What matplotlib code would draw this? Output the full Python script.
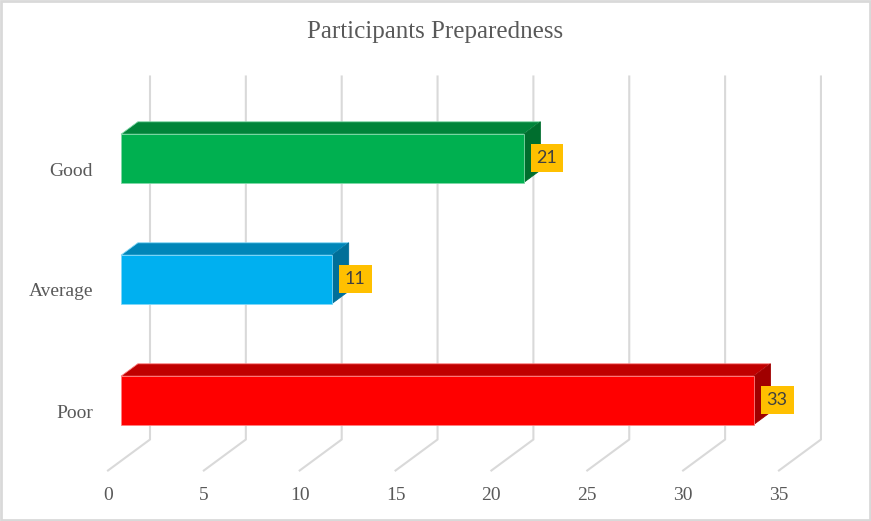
import matplotlib
matplotlib.use("Agg")
import matplotlib.pyplot as plt
from matplotlib.patches import Polygon, Rectangle

# chart data
categories = ["Poor", "Average", "Good"]
values = [33, 11, 21]
x_ticks = [0, 5, 10, 15, 20, 25, 30, 35]

front_colors = ["#FF0000", "#00B0F0", "#00B050"]
top_colors = ["#C00000", "#0086B8", "#00843A"]
side_colors = ["#A00000", "#006F99", "#006E2E"]
edge_colors = ["#FF8080", "#80D8F8", "#80D8A8"]

# oblique "3D" layout (pixel scale of the reference)
W, H = 871, 521
px_val = 19.17     # pixels per value unit
px_cat = 121.0     # pixels per category step
x0_px = 108.0      # value 0 at front of floor
y0_px = 410.0      # first category at front plane
ddx = 42.0 / px_val   # depth offset in value units
ddy = 31.0 / px_cat   # depth offset in category units
bar_half = 0.2
d_front, d_back = 0.31, 0.71


def proj(v, c, d):
    return (v + d * ddx, c + d * ddy)


fig = plt.figure(figsize=(W / 100, H / 100), dpi=100)
ax = fig.add_axes([0, 0, 1, 1])
ax.set_xlim(-x0_px / px_val, (W - x0_px) / px_val)
ax.set_ylim((y0_px - H) / px_cat, y0_px / px_cat)
ax.axis("off")

grid_col = "#D9D9D9"
c_floor, c_top = -0.5, len(categories) - 0.5
for v in x_ticks:
    p0 = proj(v, c_floor, 0)
    p1 = proj(v, c_floor, 1)
    p2 = proj(v, c_top, 1)
    ax.plot([p0[0], p1[0], p2[0]], [p0[1], p1[1], p2[1]], color=grid_col, lw=1.5, zorder=1)
    ax.text(v, c_floor - 25 / px_cat, str(v), ha="center", va="center",
            family="Liberation Serif", fontsize=14, color="#595959")

for i, (cat, v) in enumerate(zip(categories, values)):
    lo, hi = i - bar_half, i + bar_half
    front = [proj(0, lo, d_front), proj(v, lo, d_front), proj(v, hi, d_front), proj(0, hi, d_front)]
    top = [proj(0, hi, d_front), proj(v, hi, d_front), proj(v, hi, d_back), proj(0, hi, d_back)]
    side = [proj(v, lo, d_front), proj(v, lo, d_back), proj(v, hi, d_back), proj(v, hi, d_front)]
    ax.add_patch(Polygon(top, closed=True, fc=top_colors[i], ec=edge_colors[i], lw=0.6, zorder=3))
    ax.add_patch(Polygon(side, closed=True, fc=side_colors[i], ec=side_colors[i], lw=0.6, zorder=3))
    ax.add_patch(Polygon(front, closed=True, fc=front_colors[i], ec=edge_colors[i], lw=0.6, zorder=4))

    ax.text(-15 / px_val, i - 3 / px_cat, cat, ha="right", va="center",
            family="Liberation Serif", fontsize=14, color="#595959")

    ax.annotate(str(v), xy=proj(v, i, d_front), xytext=(13, 0), textcoords="offset pixels",
                ha="left", va="center", family="Lato", fontsize=13, color="#404040",
                bbox=dict(boxstyle="square,pad=0.33", fc="#FFC000", ec="none"), zorder=5)

fig.text(435 / W, 1 - 32 / H, "Participants Preparedness", ha="center", va="center",
         family="Liberation Serif", fontsize=18, color="#595959")

fig.patches.append(Rectangle((0.001, 0.001), 0.998, 0.997, transform=fig.transFigure,
                             fill=False, ec="#D9D9D9", lw=2))

fig.savefig("out.png", dpi=100)
